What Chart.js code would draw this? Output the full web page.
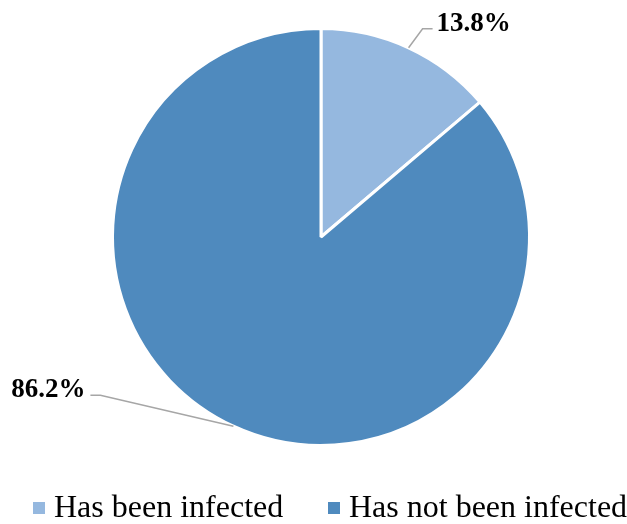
<!DOCTYPE html>
<html>
<head>
<meta charset="utf-8">
<script src="https://cdn.jsdelivr.net/npm/chart.js@4"></script>
<style>
  html, body { margin: 0; padding: 0; background: #fff; }
  #wrap { width: 627px; height: 524px; }
</style>
</head>
<body>
<div id="wrap"><canvas id="pie-chart"></canvas></div>
<script>
// Chart data
const categories = ['Has been infected', 'Has not been infected'];
const shares = [13.8, 86.2];
const valueLabels = ['13.8%', '86.2%'];
const sliceColors = ['#95b8df', '#4f8abe'];

// leader lines + labels beside the pie (elbow offsets from the arc edge)
const leaderPlugin = {
    id: 'leaders',
    afterDatasetsDraw(chart) {
        const ctx = chart.ctx;
        const arcs = chart.getDatasetMeta(0).data;
        const elbows = [
            { dx: 14, dy: -19, run: 10, align: 'left' },
            { dx: -133, dy: -31, run: -10, align: 'right' }
        ];
        ctx.save();
        arcs.forEach((arc, i) => {
            const p = arc.getProps(['x', 'y', 'startAngle', 'endAngle', 'outerRadius'], true);
            const mid = (p.startAngle + p.endAngle) / 2;
            const ex = p.x + Math.cos(mid) * p.outerRadius;
            const ey = p.y + Math.sin(mid) * p.outerRadius;
            const e = elbows[i];
            const bx = ex + e.dx, by = ey + e.dy;
            ctx.strokeStyle = '#a6a6a6';
            ctx.lineWidth = 1.5;
            ctx.beginPath();
            ctx.moveTo(ex, ey);
            ctx.lineTo(bx, by);
            ctx.lineTo(bx + e.run, by);
            ctx.stroke();
            ctx.fillStyle = '#000';
            ctx.font = 'bold 27px "Liberation Serif", "Times New Roman", serif';
            ctx.textAlign = e.align;
            ctx.textBaseline = 'alphabetic';
            ctx.fillText(valueLabels[i], bx + e.run + (e.run > 0 ? 4 : -5), by + 2);
        });
        ctx.restore();
    }
};

// legend row at the bottom
const legendPlugin = {
    id: 'bottomLegend',
    afterDraw(chart) {
        const ctx = chart.ctx;
        const xs = [33, 328];
        ctx.save();
        ctx.font = '32px "Liberation Serif", "Times New Roman", serif';
        ctx.textBaseline = 'alphabetic';
        ctx.textAlign = 'left';
        categories.forEach((name, i) => {
            ctx.fillStyle = sliceColors[i];
            ctx.fillRect(xs[i], 502, 12, 12);
            ctx.fillStyle = '#000';
            ctx.fillText(name, xs[i] + 21, 517);
        });
        ctx.restore();
    }
};

new Chart(document.getElementById('pie-chart'), {
    type: 'pie',
    data: {
        labels: categories,
        datasets: [{
            data: shares,
            backgroundColor: sliceColors,
            borderColor: '#ffffff',
            borderWidth: 3
        }]
    },
    options: {
        responsive: true,
        maintainAspectRatio: false,
        animation: false,
        layout: { padding: { top: 27, bottom: 77, left: 15, right: 0 } },
        plugins: {
            legend: { display: false },
            tooltip: { enabled: false }
        }
    },
    plugins: [leaderPlugin, legendPlugin]
});
</script>
</body>
</html>
